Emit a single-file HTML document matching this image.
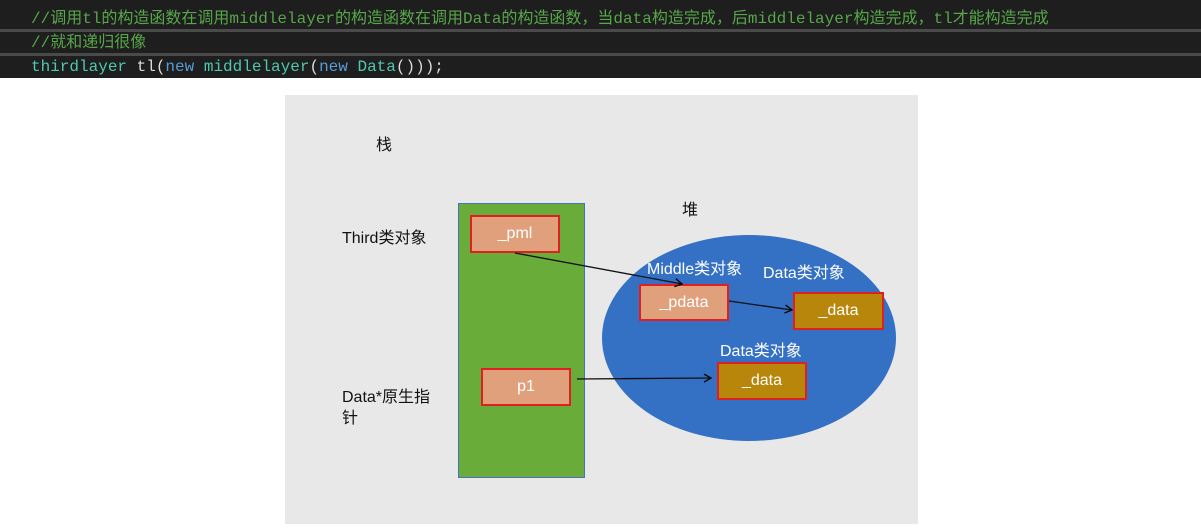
<!DOCTYPE html>
<html><head><meta charset="utf-8"><style>
body{margin:0;width:1201px;height:531px;background:#fff;position:relative;overflow:hidden;font-family:"Liberation Sans","Noto Sans CJK SC",sans-serif}
.code{position:absolute;left:0;top:0;width:1201px;height:78px;background:#1e1e1e}
.ln{position:absolute;left:0;width:1201px;height:22px;font-family:"Liberation Mono","Noto Sans CJK SC",monospace;font-size:16px;line-height:22px;padding-left:31px;box-sizing:border-box;white-space:nowrap}
.sep{position:absolute;left:0;width:1201px;height:3px;background:#4a4a4a}
.c{color:#57a64a}.k{color:#569cd6}.t{color:#4ec9b0}.p{color:#dcdcdc}
.a{position:absolute}
.box{position:absolute;border:2px solid #e02020;box-sizing:border-box;color:#fff;font-size:16px;display:flex;align-items:center;justify-content:center}
.or{background:#e0a07c}.br{background:#b8860b}
.lbl{position:absolute;font-size:16px;color:#111;white-space:nowrap}
.w{color:#fff}
</style></head><body>
<div class="code">
<div class="ln c" style="top:8px">//调用tl的构造函数在调用middlelayer的构造函数在调用Data的构造函数，当data构造完成，后middlelayer构造完成，tl才能构造完成</div>
<div class="sep" style="top:29px"></div>
<div class="ln c" style="top:32px">//就和递归很像</div>
<div class="sep" style="top:53px"></div>
<div class="ln" style="top:56px"><span class="t">thirdlayer</span><span class="p"> tl(</span><span class="k">new</span><span class="t"> middlelayer</span><span class="p">(</span><span class="k">new</span><span class="t"> Data</span><span class="p">()));</span></div>
</div>
<div class="a" style="left:285px;top:95px;width:633px;height:429px;background:#e8e8e8"></div>
<div class="a" style="left:458px;top:203px;width:127px;height:275px;background:#6aac3a;border:1px solid #4472c4;box-sizing:border-box"></div>
<div class="a" style="left:602px;top:235px;width:294px;height:206px;border-radius:50%;background:#3470c4"></div>
<div class="lbl" style="left:376px;top:131px">栈</div>
<div class="lbl" style="left:682px;top:196px">堆</div>
<div class="lbl" style="left:342px;top:224px">Third类对象</div>
<div class="lbl" style="left:342px;top:383px">Data*原生指</div>
<div class="lbl" style="left:342px;top:404px">针</div>
<div class="lbl w" style="left:647px;top:255px">Middle类对象</div>
<div class="lbl w" style="left:763px;top:259px">Data类对象</div>
<div class="lbl w" style="left:720px;top:337px">Data类对象</div>
<div class="box or" style="left:470px;top:215px;width:90px;height:38px">_pml</div>
<div class="box or" style="left:481px;top:368px;width:90px;height:38px">p1</div>
<div class="box or" style="left:639px;top:284px;width:90px;height:37px">_pdata</div>
<div class="box br" style="left:793px;top:292px;width:91px;height:38px">_data</div>
<div class="box br" style="left:717px;top:362px;width:90px;height:38px">_data</div>
<svg class="a" style="left:0;top:0" width="1201" height="531">
<defs><marker id="m" markerWidth="10" markerHeight="10" refX="8" refY="5" orient="auto" markerUnits="userSpaceOnUse"><path d="M1,1 L8,5 L1,9" fill="none" stroke="#000" stroke-width="1.3"/></marker></defs>
<g stroke="#111" stroke-width="1.3" fill="none">
<line x1="515" y1="253" x2="682" y2="284" marker-end="url(#m)"/>
<line x1="729" y1="301" x2="792" y2="310" marker-end="url(#m)"/>
<line x1="577" y1="379" x2="711" y2="378" marker-end="url(#m)"/>
</g></svg>
</body></html>
